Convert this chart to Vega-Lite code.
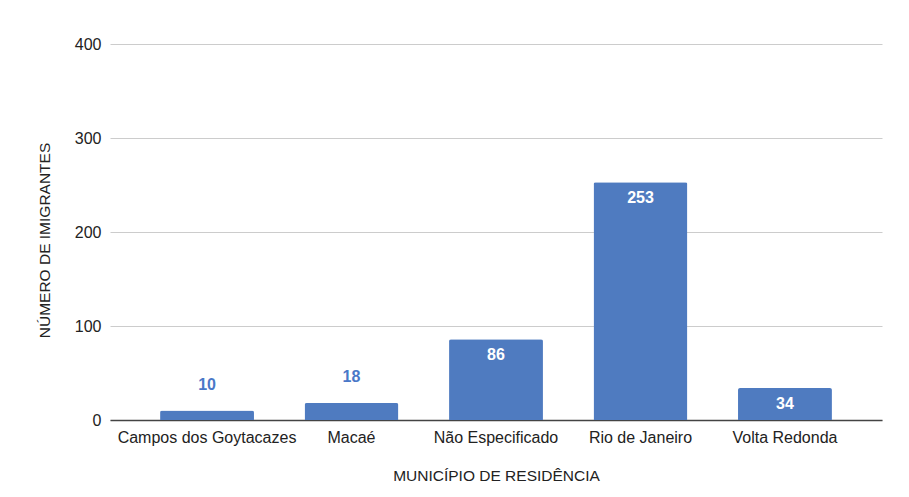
{
  "$schema": "https://vega.github.io/schema/vega-lite/v6.json",
  "autosize": "none",
  "width": 772,
  "height": 376,
  "padding": {"left": 110, "top": 44, "right": 27, "bottom": 77},
  "background": "white",
  "config": {
    "view": {"stroke": null},
    "font": "Liberation Sans",
    "axis": {"labelFont": "Liberation Sans", "titleFont": "Liberation Sans", "labelColor": "#222222", "titleColor": "#222222", "labelFontSize": 16, "titleFontSize": 15.5, "titleFontWeight": "normal"}
  },
  "data": {
    "values": [
      {"municipio": "Campos dos Goytacazes", "n": 10},
      {"municipio": "Macaé", "n": 18},
      {"municipio": "Não Especificado", "n": 86},
      {"municipio": "Rio de Janeiro", "n": 253},
      {"municipio": "Volta Redonda", "n": 34}
    ]
  },
  "encoding": {
    "x": {
      "field": "municipio", "type": "nominal", "sort": null,
      "scale": {"paddingInner": 0.35, "paddingOuter": 0.3465},
      "axis": {"title": "MUNICÍPIO DE RESIDÊNCIA", "labelAngle": 0, "ticks": false, "domainColor": "#444444", "domainWidth": 1.5, "labelPadding": 9, "titlePadding": 23}
    },
    "y": {
      "field": "n", "type": "quantitative",
      "scale": {"domain": [0, 400]},
      "axis": {"title": "NÚMERO DE IMIGRANTES", "values": [0, 100, 200, 300, 400], "domain": false, "ticks": false, "gridColor": "#cccccc", "labelPadding": 9, "titlePadding": 22, "titleY": 196}
    }
  },
  "layer": [
    {"mark": {"type": "bar", "color": "#4f7bc0", "cornerRadiusTopLeft": 2, "cornerRadiusTopRight": 2}},
    {
      "transform": [{"filter": "datum.n >= 30"}],
      "mark": {"type": "text", "color": "white", "fontWeight": "bold", "fontSize": 16, "dy": 16, "baseline": "middle"},
      "encoding": {"text": {"field": "n", "type": "quantitative"}}
    },
    {
      "transform": [{"filter": "datum.n < 30"}],
      "mark": {"type": "text", "color": "#4a78c8", "fontWeight": "bold", "fontSize": 16, "dy": -26, "baseline": "middle"},
      "encoding": {"text": {"field": "n", "type": "quantitative"}}
    }
  ]
}
